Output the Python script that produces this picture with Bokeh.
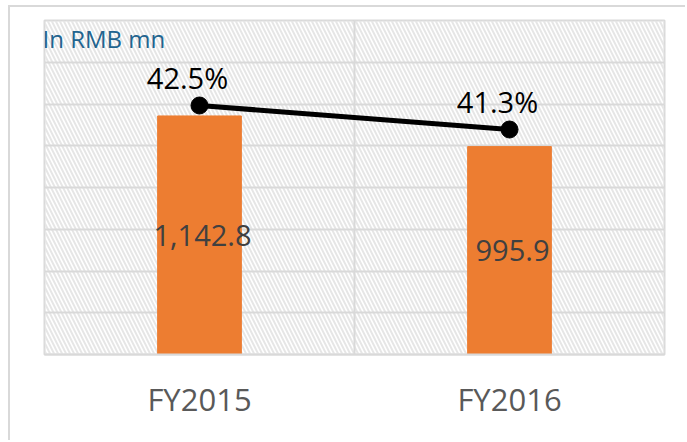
from bokeh.plotting import figure
from bokeh.models import (ColumnDataSource, Range1d, FactorRange, BoxAnnotation, Span,
                          FixedTicker, Label)
from bokeh.core.properties import value
from bokeh.embed import file_html
from bokeh.resources import INLINE

categories = ["FY2015", "FY2016"]
revenue = [1142.8, 995.9]
revenue_labels = ["1,142.8", "995.9"]
margin_pct = [42.5, 41.3]
margin_labels = ["42.5%", "41.3%"]
y_ticks = [0, 200, 400, 600, 800, 1000, 1200, 1400, 1600]

FONT = "Open Sans"

p = figure(x_range=FactorRange(*categories, range_padding=0), y_range=Range1d(0, 1600),
           width=677, height=435, output_backend="svg", toolbar_location=None,
           min_border_left=34, min_border_right=23, min_border_top=13, min_border_bottom=88)
p.styles = {"border-left": "2px solid #D9D9D9", "border-top": "2px solid #D9D9D9",
            "margin-left": "8px", "margin-top": "5px"}
p.background_fill_color = "white"
p.border_fill_color = "white"
p.outline_line_color = "#D9D9D9"
p.outline_line_width = 2

p.extra_y_ranges = {"pct": Range1d(30.05, 46.75)}

# hatched plot area background
p.add_layout(BoxAnnotation(fill_alpha=0, line_alpha=0, hatch_pattern="\\",
                           hatch_color="#E6E6E6", hatch_scale=8, hatch_weight=2,
                           level="image"))

p.yaxis.visible = False
p.ygrid.ticker = FixedTicker(ticks=y_ticks)
p.ygrid.grid_line_color = "#D9D9D9"
p.ygrid.grid_line_width = 2
p.xgrid.visible = False
p.add_layout(Span(location=1, dimension="height", line_color="#D9D9D9", line_width=2,
                  level="underlay"))

p.xaxis.axis_line_color = "#D9D9D9"
p.xaxis.axis_line_width = 2
p.xaxis.major_tick_line_color = None
p.xaxis.minor_tick_line_color = None
p.xaxis.major_label_text_font = FONT
p.xaxis.major_label_text_font_size = "31px"
p.xaxis.major_label_text_color = "#595959"
p.xaxis.major_label_standoff = 17

src = ColumnDataSource(dict(x=categories, top=revenue, lab=revenue_labels,
                            mid=[v / 2 for v in revenue], pct=margin_pct, plab=margin_labels))

p.vbar(x="x", top="top", width=0.27, color="#ED7D31", source=src)
p.text(x="x", y="mid", text="lab", source=src, text_align="center", text_baseline="middle",
       text_font=value(FONT), text_font_size="29px", text_color="#404040", x_offset=3)

p.line(x="x", y="pct", source=src, y_range_name="pct", line_color="black", line_width=5)
p.scatter(x="x", y="pct", source=src, y_range_name="pct", size=17, fill_color="black",
          line_color="black")
p.text(x="x", y="pct", text="plab", source=src, y_range_name="pct", text_align="center",
       text_baseline="middle", x_offset=-12, y_offset=-28,
       text_font=value(FONT), text_font_size="29px", text_color="#000000")

p.add_layout(Label(x=0, y=1600, x_units="screen", text="In RMB mn", text_font=FONT,
                   text_font_size="24px", text_color="#22648F", text_baseline="top",
                   x_offset=-2, y_offset=-1))

open("out.html", "w").write(file_html(p, INLINE))
